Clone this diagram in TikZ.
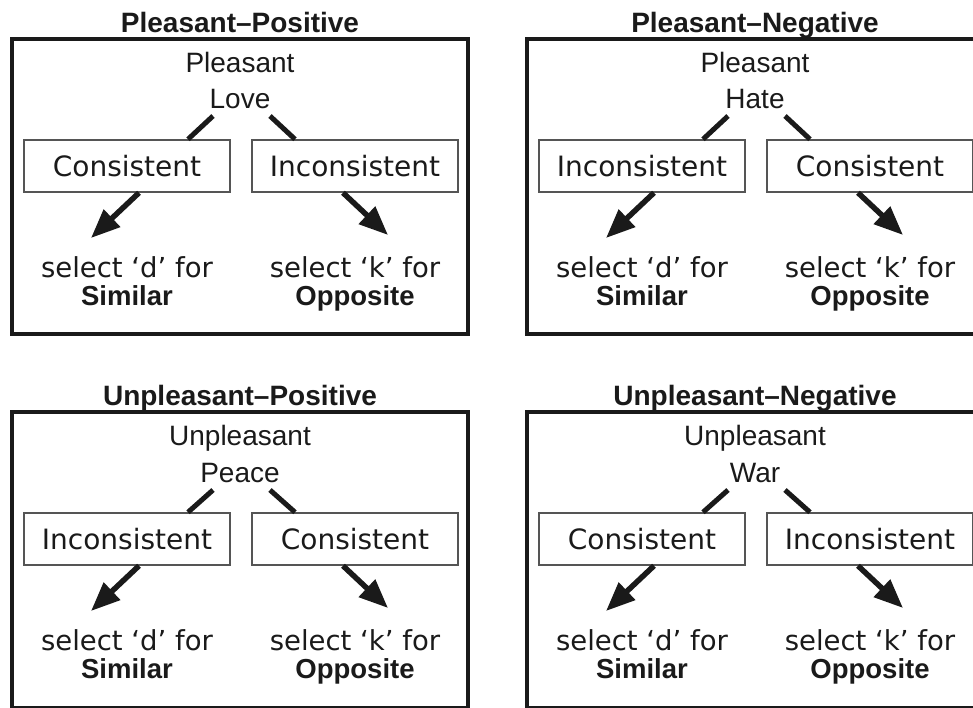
\documentclass[tikz,border=0pt]{standalone}
\usepackage{fontspec}
\setmainfont{Liberation Sans}
\newfontfamily\verafont{DejaVu Sans}
\usetikzlibrary{arrows.meta}
\definecolor{ink}{HTML}{1A1A1A}
\definecolor{boxline}{HTML}{555555}

\tikzset{
  heading/.style={anchor=base, inner sep=0pt, text=ink, font=\fontsize{28}{28}\selectfont\bfseries},
  valence/.style={anchor=base, inner sep=0pt, text=ink, font=\fontsize{28}{28}\selectfont},
  frame/.style={draw=ink, line width=4pt},
  choice/.style={draw=boxline, line width=1.5pt, minimum width=206pt, minimum height=52pt,
    inner sep=0pt, text=ink, font=\fontsize{28}{28}\selectfont\verafont},
  answer/.style={anchor=north, align=center, inner sep=0pt, text=ink, font=\fontsize{27.5}{28}\selectfont\verafont},
  link/.style={draw=ink, line width=5pt},
  pick/.style={draw=ink, line width=5.5pt, -{Triangle[length=29pt,width=23pt]}},
}

\begin{document}
\begin{tikzpicture}[x=1pt,y=-1pt]
  \clip (0,0) rectangle (973,707);

  % Pleasant - Positive
  \begin{scope}
    \node[heading] (t1) at (240,32) {Pleasant–Positive};
    \draw[frame] (12,39) rectangle (468,334);
    \node[valence] (v1) at (240,72) {Pleasant};
    \node[valence] (w1) at (240,108) {Love};
    \node[choice] (l1) at (127,166) {Consistent};
    \node[choice] (r1) at (355,166) {Inconsistent};
    \node[answer] (a1) at (127,256) {select ‘d’ for\\{\normalfont\bfseries Similar}};
    \node[answer] (b1) at (355,256) {select ‘k’ for\\{\normalfont\bfseries Opposite}};
    \draw[link] ([xshift=-27pt,yshift=-8pt]w1.base) -- ([xshift=61pt]l1.north);
    \draw[link] ([xshift=30pt,yshift=-8pt]w1.base) -- ([xshift=-60pt]r1.north);
    \draw[pick] ([xshift=12pt]l1.south) -- ([xshift=-36pt,yshift=18pt]a1.north);
    \draw[pick] ([xshift=-12pt]r1.south) -- ([xshift=33pt,yshift=21pt]b1.north);
  \end{scope}

  % Pleasant - Negative
  \begin{scope}[shift={(515,0)}]
    \node[heading] (t2) at (240,32) {Pleasant–Negative};
    \draw[frame] (12,39) rectangle (468,334);
    \node[valence] (v2) at (240,72) {Pleasant};
    \node[valence] (w2) at (240,108) {Hate};
    \node[choice] (l2) at (127,166) {Inconsistent};
    \node[choice] (r2) at (355,166) {Consistent};
    \node[answer] (a2) at (127,256) {select ‘d’ for\\{\normalfont\bfseries Similar}};
    \node[answer] (b2) at (355,256) {select ‘k’ for\\{\normalfont\bfseries Opposite}};
    \draw[link] ([xshift=-27pt,yshift=-8pt]w2.base) -- ([xshift=61pt]l2.north);
    \draw[link] ([xshift=30pt,yshift=-8pt]w2.base) -- ([xshift=-60pt]r2.north);
    \draw[pick] ([xshift=12pt]l2.south) -- ([xshift=-36pt,yshift=18pt]a2.north);
    \draw[pick] ([xshift=-12pt]r2.south) -- ([xshift=33pt,yshift=21pt]b2.north);
  \end{scope}

  % Unpleasant - Positive
  \begin{scope}[shift={(0,373)}]
    \node[heading] (t3) at (240,32) {Unpleasant–Positive};
    \draw[frame] (12,39) rectangle (468,335);
    \node[valence] (v3) at (240,72) {Unpleasant};
    \node[valence] (w3) at (240,109) {Peace};
    \node[choice] (l3) at (127,166) {Inconsistent};
    \node[choice] (r3) at (355,166) {Consistent};
    \node[answer] (a3) at (127,256) {select ‘d’ for\\{\normalfont\bfseries Similar}};
    \node[answer] (b3) at (355,256) {select ‘k’ for\\{\normalfont\bfseries Opposite}};
    \draw[link] ([xshift=-27pt,yshift=-8pt]w3.base) -- ([xshift=61pt]l3.north);
    \draw[link] ([xshift=30pt,yshift=-8pt]w3.base) -- ([xshift=-60pt]r3.north);
    \draw[pick] ([xshift=12pt]l3.south) -- ([xshift=-36pt,yshift=18pt]a3.north);
    \draw[pick] ([xshift=-12pt]r3.south) -- ([xshift=33pt,yshift=21pt]b3.north);
  \end{scope}

  % Unpleasant - Negative
  \begin{scope}[shift={(515,373)}]
    \node[heading] (t4) at (240,32) {Unpleasant–Negative};
    \draw[frame] (12,39) rectangle (468,335);
    \node[valence] (v4) at (240,72) {Unpleasant};
    \node[valence] (w4) at (240,109) {War};
    \node[choice] (l4) at (127,166) {Consistent};
    \node[choice] (r4) at (355,166) {Inconsistent};
    \node[answer] (a4) at (127,256) {select ‘d’ for\\{\normalfont\bfseries Similar}};
    \node[answer] (b4) at (355,256) {select ‘k’ for\\{\normalfont\bfseries Opposite}};
    \draw[link] ([xshift=-27pt,yshift=-8pt]w4.base) -- ([xshift=61pt]l4.north);
    \draw[link] ([xshift=30pt,yshift=-8pt]w4.base) -- ([xshift=-60pt]r4.north);
    \draw[pick] ([xshift=12pt]l4.south) -- ([xshift=-36pt,yshift=18pt]a4.north);
    \draw[pick] ([xshift=-12pt]r4.south) -- ([xshift=33pt,yshift=21pt]b4.north);
  \end{scope}
\end{tikzpicture}
\end{document}
